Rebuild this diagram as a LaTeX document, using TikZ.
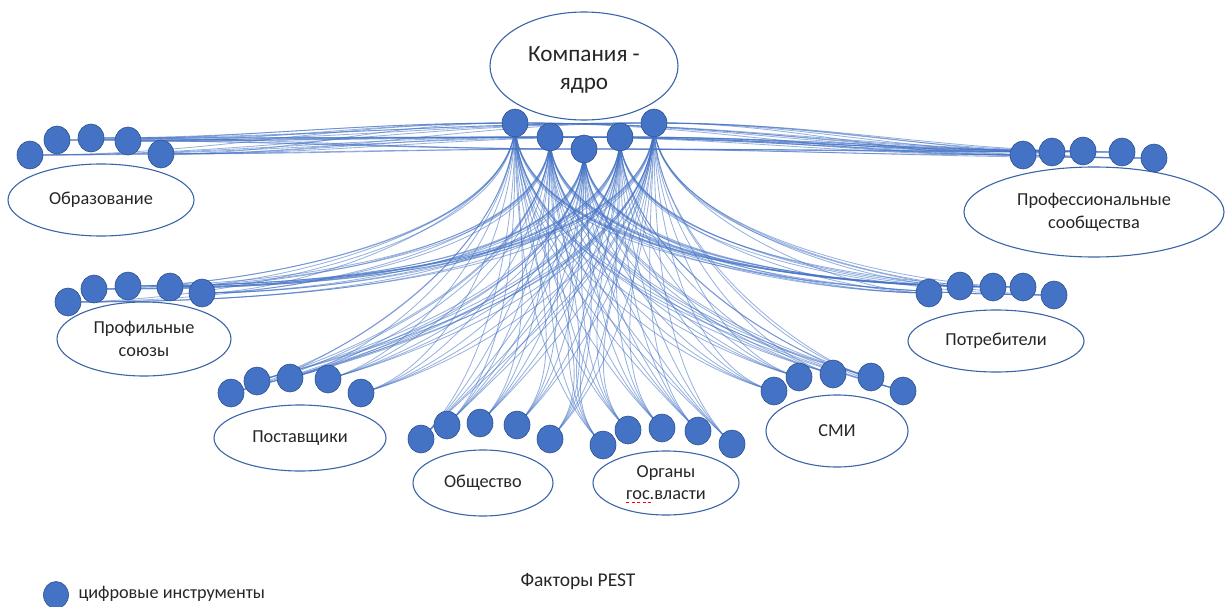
\documentclass[tikz,border=0pt]{standalone}
\usepackage{fontspec}
\setmainfont{Carlito}
\usetikzlibrary{shapes.geometric}
\definecolor{dotblue}{HTML}{4472C4}
\definecolor{dotedge}{HTML}{2F528F}
\definecolor{ringblue}{HTML}{3C64A8}
\definecolor{inkgrey}{HTML}{262626}
\pgfdeclarelayer{links}
\pgfsetlayers{links,main}
\begin{document}
\begin{tikzpicture}[x=1pt,y=-1pt,
  group/.style={ellipse, draw=ringblue, line width=1.1pt, fill=white, inner sep=0pt,
    align=center, text=inkgrey, font=\fontsize{18.3}{23}\selectfont},
  tool/.style={ellipse, draw=dotedge, line width=0.6pt, fill=dotblue, inner sep=0pt,
    minimum width=26pt, minimum height=28pt},
  link/.style={draw=dotblue, line width=0.85pt, opacity=0.55}]
\useasboundingbox (0,0) rectangle (1225,607);

% stakeholder groups
\node[group, minimum width=188pt, minimum height=108pt] (core) at (584,66) {};
\node[text=inkgrey, align=center, font=\fontsize{23.2}{28}\selectfont] (coretxt) at (584,70) {Компания -\\ядро};
\node[group, minimum width=186pt, minimum height=72pt] (obrE) at (101,200) {Образование};
\node[group, minimum width=260pt, minimum height=90pt] (profE) at (1094,212) {Профессиональные\\сообщества};
\node[group, minimum width=174pt, minimum height=74pt] (soyuzE) at (144,339) {Профильные\\союзы};
\node[group, minimum width=176pt, minimum height=62pt] (potrE) at (996,341) {Потребители};
\node[group, minimum width=172pt, minimum height=66pt] (postE) at (300,438) {Поставщики};
\node[group, minimum width=142pt, minimum height=72pt] (smiE) at (837,431) {СМИ};
\node[group, minimum width=140pt, minimum height=66pt] (obshE) at (483,483) {Общество};
\node[group, minimum width=146pt, minimum height=64pt, font=\fontsize{18.3}{22}\selectfont] (orgE) at (666,483) {Органы\\гос.власти};
\draw[red, line width=0.8pt, dash pattern=on 3pt off 2.5pt] (626,502) -- (651,502);

% digital tools
\foreach \n/\x/\y in {
  k1/515/123, k2/550/137, k3/584/149, k4/620/137, k5/654/123,
  obr1/30/155, obr2/57/140, obr3/91/138, obr4/128/141, obr5/161/154,
  prof1/1023/155, prof2/1052/152, prof3/1083/151, prof4/1122/152, prof5/1154/158,
  soyuz1/68/302, soyuz2/94/289, soyuz3/128/286, soyuz4/170/287, soyuz5/202/293,
  potr1/929/293, potr2/960/286, potr3/993/287, potr4/1023/287, potr5/1054/295,
  post1/231/393, post2/257/381, post3/290/378, post4/328/379, post5/361/393,
  smi1/774/391, smi2/799/377, smi3/833/374, smi4/871/377, smi5/903/391,
  obsh1/421/439, obsh2/447/425, obsh3/480/423, obsh4/517/425, obsh5/550/439,
  org1/603/445, org2/628/430, org3/662/428, org4/698/431, org5/732/444}
  \node[tool] (\n) at (\x,\y) {};

% every core tool is tied to every tool of every group
\begin{pgfonlayer}{links}
\foreach \g/\o/\i/\l in {obr/180/0/1, prof/0/180/1, soyuz/-90/0/0.7, potr/-90/180/0.7,
    post/-90/15/0.8, smi/-90/165/0.8, obsh/-90/45/0.8, org/-90/135/0.8}
  \foreach \s in {1,...,5}
    \foreach \t in {1,...,5}
      \draw[link] (k\s.center) to[out=\o, in=\i, looseness=\l] (\g\t.center);
\end{pgfonlayer}

% legend and caption
\node[tool, minimum width=25pt, minimum height=27pt] (legdot) at (56,595) {};
\node[anchor=west, text=inkgrey, font=\fontsize{18.2}{22}\selectfont] (legtxt) at (75,594) {цифровые инструменты};
\node[text=inkgrey, font=\fontsize{19.5}{24}\selectfont] (pest) at (578,582) {Факторы PEST};
\end{tikzpicture}
\end{document}
